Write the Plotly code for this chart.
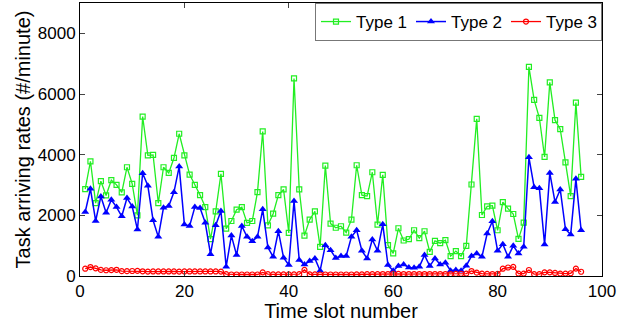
import plotly.graph_objects as go

slots = list(range(1, 97))

type1 = [2864, 3782, 2405, 3126, 2656, 3159, 3006, 2754, 3585, 3039,
         2000, 5257, 3979, 3990, 2405, 3585, 3399, 3891, 4689, 3979,
         3345, 3006, 2667, 2273, 1213, 2131, 3366, 1563, 1814, 2186,
         2273, 1749, 1814, 2765, 4765, 1672, 2055, 2667, 2853, 1421,
         6514, 2853, 1333, 1858, 2131, 962, 3640, 1727, 1590, 1640,
         1432, 1858, 3651, 2667, 2634, 3421, 1694, 3334, 1016, 743,
         1574, 1170, 1213, 1508, 1246, 1476, 798, 1159, 1082, 1180,
         656, 820, 656, 995, 3017, 5181, 2011, 2295, 2317, 1508,
         2437, 2219, 2044, 1224, 1760, 6897, 5804, 5214, 3924, 6383,
         5137, 4842, 3749, 2634, 5716, 3268]

type2 = [2109, 2875, 1814, 2623, 2088, 2514, 2273, 1967, 2569, 2295,
         1530, 3388, 2973, 1836, 1290, 2252, 2306, 2765, 3607, 1694,
         1650, 2273, 2241, 1755, 721, 1672, 2142, 306, 1333, 689,
         1650, 1290, 1148, 1290, 2197, 940, 634, 1476, 601, 361,
         2470, 525, 383, 492, 579, 175, 1016, 853, 590, 656,
         660, 1290, 1508, 831, 579, 1202, 831, 1705, 361, 175,
         328, 383, 284, 273, 306, 689, 328, 579, 383, 437,
         175, 197, 175, 339, 656, 743, 634, 1399, 1803, 831,
         1049, 634, 995, 743, 962, 3913, 2929, 2896, 1038, 3399,
         2437, 2853, 1541, 1366, 3202, 1508]

type3 = [240, 295, 252, 200, 190, 195, 205, 160, 160, 165,
         170, 155, 145, 150, 150, 150, 150, 150, 145, 150,
         150, 150, 150, 150, 150, 150, 145, 60, 50, 50,
         50, 50, 50, 50, 120, 60, 55, 55, 55, 55,
         55, 60, 200, 55, 55, 50, 50, 50, 50, 50,
         50, 50, 55, 55, 60, 60, 60, 65, 65, 70,
         70, 65, 65, 65, 65, 65, 65, 65, 65, 65,
         65, 70, 75, 80, 164, 110, 80, 70, 65, 70,
         240, 280, 300, 80, 80, 197, 60, 60, 120, 120,
         100, 80, 80, 90, 245, 140]

fig = go.Figure()
fig.add_trace(go.Scatter(x=slots, y=type1, name="Type 1", mode="lines+markers",
                         line=dict(color="#22ee22", width=1.3),
                         marker=dict(symbol="square-open", size=5, color="#22ee22",
                                     line=dict(width=1.2))))
fig.add_trace(go.Scatter(x=slots, y=type2, name="Type 2", mode="lines+markers",
                         line=dict(color="#0000ff", width=1.5),
                         marker=dict(symbol="triangle-up", size=7, color="#0000ff")))
fig.add_trace(go.Scatter(x=slots, y=type3, name="Type 3", mode="lines+markers",
                         line=dict(color="#ff0000", width=1.3),
                         marker=dict(symbol="circle-open", size=5, color="#ff0000",
                                     line=dict(width=1.2))))

fig.update_layout(
    width=630, height=322,
    margin=dict(l=80, r=28, t=3, b=46),
    paper_bgcolor="white", plot_bgcolor="white",
    font=dict(family="Liberation Sans, Arial, sans-serif", size=15, color="black"),
    showlegend=True,
    legend=dict(orientation="h", x=1, xanchor="right", y=1, yanchor="top",
                bgcolor="white", bordercolor="#777777", borderwidth=1,
                font=dict(size=17), itemwidth=30, tracegroupgap=0,
                entrywidth=50, entrywidthmode="pixels"),
)
fig.update_xaxes(range=[0, 100], tickvals=[0, 20, 40, 60, 80, 100],
                 showgrid=False, zeroline=False, showline=True, linecolor="black",
                 linewidth=1, mirror="allticks", ticks="inside", ticklen=5,
                 tickfont=dict(size=17), automargin=False,
                 title=dict(text="Time slot number", font=dict(size=20), standoff=2))
fig.update_yaxes(range=[0, 9000], tickvals=[0, 2000, 4000, 6000, 8000],
                 showgrid=False, zeroline=False, showline=True, linecolor="black",
                 linewidth=1, mirror="allticks", ticks="inside", ticklen=5,
                 tickfont=dict(size=17), automargin=False,
                 title=dict(text="Task arriving rates (#/minute)", font=dict(size=20),
                            standoff=1))

fig.write_html("out.html", config={"displayModeBar": False},
               post_script="document.body.style.margin='0';document.body.style.padding='0';")
